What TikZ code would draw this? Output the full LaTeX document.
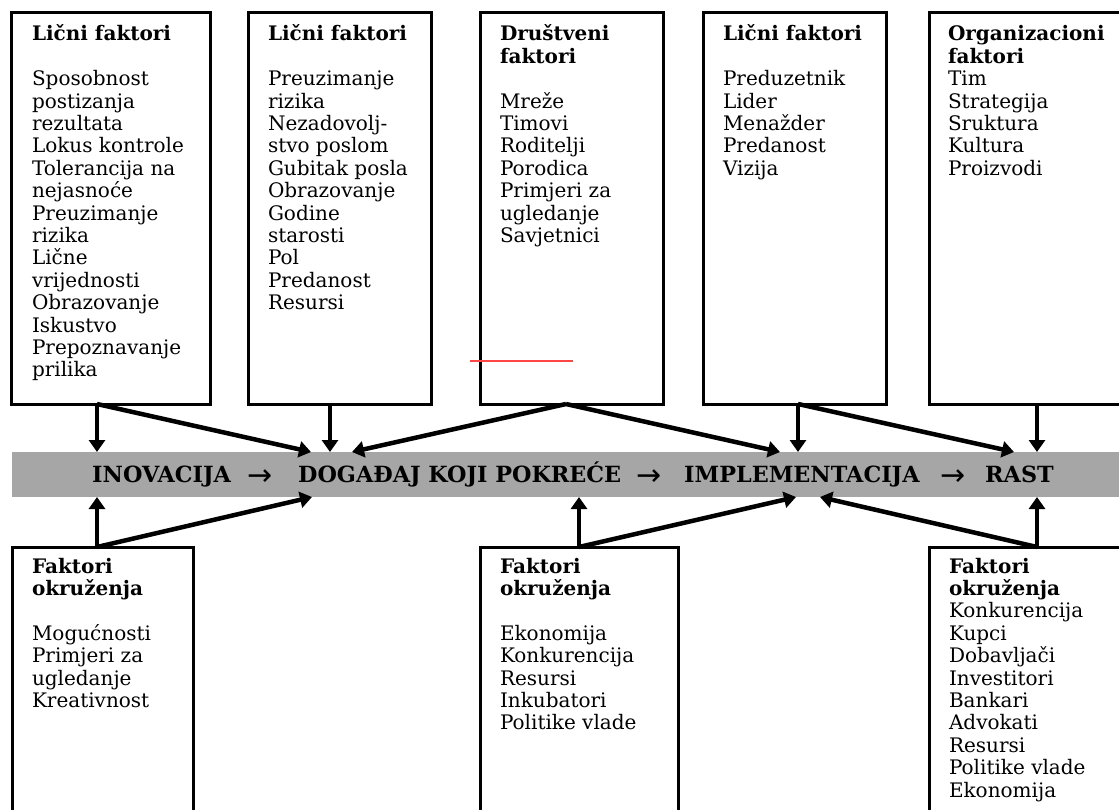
\documentclass[tikz,border=0pt]{standalone}
\usepackage{fontspec}
\setmainfont{DejaVu Serif}
\newfontfamily\signfont{DejaVu Sans}
\usetikzlibrary{arrows.meta}

\definecolor{bandgray}{RGB}{166,166,166}
\definecolor{markred}{RGB}{255,70,70}

% list of factors inside a box: first line sits on the node's base line
\newcommand{\factorlist}[1]{\parbox[t]{300pt}{\fontsize{20pt}{22.4pt}\selectfont
  \lineskiplimit=-50pt\relax\raggedright #1}}
\newcommand{\gapline}{\\[22.4pt]}

\tikzset{
  factorbox/.style={draw=black, line width=3pt, rectangle, anchor=north west,
    inner sep=0pt, outer sep=0pt},
  factortext/.style={anchor=base west, inner sep=0pt, outer sep=0pt},
  band/.style={fill=bandgray, rectangle, anchor=north west, inner sep=0pt,
    outer sep=0pt, minimum width=1130pt, minimum height=45pt},
  stage/.style={anchor=base west, inner sep=0pt,
    font=\fontsize{22.3pt}{25pt}\selectfont\bfseries},
  flowsign/.style={anchor=base, inner sep=0pt,
    font=\signfont\fontsize{30pt}{32pt}\selectfont},
  feed/.style={line width=4.5pt, -{Triangle[length=12pt,width=16pt]}}
}

\begin{document}
\begin{tikzpicture}[x=1pt, y=-1pt]
  \useasboundingbox (0,0) rectangle (1119,810);
  \fill[white] (0,0) rectangle (1119,810);
  \clip (0,0) rectangle (1119,810);

  % process band
  \node[band] (band) at (12,452) {};
  \node[stage] (s1) at (92,482) {INOVACIJA};
  \node[flowsign] (f1) at (260,485) {→};
  \node[stage] (s2) at (298,482) {DOGAĐAJ KOJI POKREĆE};
  \node[flowsign] (f2) at (649,485) {→};
  \node[stage] (s3) at (684,482) {IMPLEMENTACIJA};
  \node[flowsign] (f3) at (953,485) {→};
  \node[stage] (s4) at (985,482) {RAST};

  % upper factor boxes
  \node[factorbox, minimum width=199pt, minimum height=391pt] (t1) at (11,13) {};
  \node[factorbox, minimum width=183pt, minimum height=391pt] (t2) at (248,13) {};
  \node[factorbox, minimum width=183pt, minimum height=391pt] (t3) at (480,13) {};
  \node[factorbox, minimum width=183pt, minimum height=391pt] (t4) at (703,13) {};
  \node[factorbox, minimum width=211pt, minimum height=391pt] (t5) at (929,13) {};

  % lower factor boxes
  \node[factorbox, minimum width=181pt, minimum height=290pt] (b1) at (12,547) {};
  \node[factorbox, minimum width=198pt, minimum height=290pt] (b2) at (480,547) {};
  \node[factorbox, minimum width=211pt, minimum height=290pt] (b3) at (929,547) {};

  % box contents
  \node[factortext] (t1txt) at (32,41) {\factorlist{\textbf{Lični faktori}\gapline
    Sposobnost\\ postizanja\\ rezultata\\ Lokus kontrole\\ Tolerancija na\\
    nejasnoće\\ Preuzimanje\\ rizika\\ Lične\\ vrijednosti\\ Obrazovanje\\
    Iskustvo\\ Prepoznavanje\\ prilika}};
  \node[factortext] (t2txt) at (268,41) {\factorlist{\textbf{Lični faktori}\gapline
    Preuzimanje\\ rizika\\ Nezadovolj-\\ stvo poslom\\ Gubitak posla\\
    Obrazovanje\\ Godine\\ starosti\\ Pol\\ Predanost\\ Resursi}};
  \node[factortext] (t3txt) at (500,41) {\factorlist{\textbf{Društveni}\\
    \textbf{faktori}\gapline
    Mreže\\ Timovi\\ Roditelji\\ Porodica\\ Primjeri za\\ ugledanje\\ Savjetnici}};
  \node[factortext] (t4txt) at (723,41) {\factorlist{\textbf{Lični faktori}\gapline
    Preduzetnik\\ Lider\\ Menažder\\ Predanost\\ Vizija}};
  \node[factortext] (t5txt) at (948,41) {\factorlist{\textbf{Organizacioni}\\
    \textbf{faktori}\\ Tim\\ Strategija\\ Sruktura\\ Kultura\\ Proizvodi}};
  \node[factortext] (b1txt) at (32,573) {\factorlist{\textbf{Faktori}\\
    \textbf{okruženja}\gapline
    Mogućnosti\\ Primjeri za\\ ugledanje\\ Kreativnost}};
  \node[factortext] (b2txt) at (500,573) {\factorlist{\textbf{Faktori}\\
    \textbf{okruženja}\gapline
    Ekonomija\\ Konkurencija\\ Resursi\\ Inkubatori\\ Politike vlade}};
  \node[factortext] (b3txt) at (949,573) {\factorlist{\textbf{Faktori}\\
    \textbf{okruženja}\\ Konkurencija\\ Kupci\\ Dobavljači\\ Investitori\\
    Bankari\\ Advokati\\ Resursi\\ Politike vlade\\ Ekonomija}};

  % influences from above
  \draw[feed] ([xshift=86pt]t1.south west) -- ([xshift=85pt]band.north west);
  \draw[feed] ([xshift=86pt]t1.south west) -- ([xshift=299pt]band.north west);
  \draw[feed] ([xshift=82pt]t2.south west) -- ([xshift=318pt]band.north west);
  \draw[feed] ([xshift=86pt]t3.south west) -- ([xshift=340pt]band.north west);
  \draw[feed] ([xshift=86pt]t3.south west) -- ([xshift=768pt]band.north west);
  \draw[feed] ([xshift=95pt]t4.south west) -- ([xshift=786pt]band.north west);
  \draw[feed] ([xshift=95pt]t4.south west) -- ([xshift=1002pt]band.north west);
  \draw[feed] ([xshift=108pt]t5.south west) -- ([xshift=1025pt]band.north west);

  % influences from below
  \draw[feed] ([xshift=85pt]b1.north west) -- ([xshift=85pt]band.south west);
  \draw[feed] ([xshift=85pt]b1.north west) -- ([xshift=300pt]band.south west);
  \draw[feed] ([xshift=99pt]b2.north west) -- ([xshift=567pt]band.south west);
  \draw[feed] ([xshift=99pt]b2.north west) -- ([xshift=784pt]band.south west);
  \draw[feed] ([xshift=108pt]b3.north west) -- ([xshift=1025pt]band.south west);
  \draw[feed] ([xshift=108pt]b3.north west) -- ([xshift=808pt]band.south west);

  % red stroke inside the social factors box
  \draw[markred, line width=1.5pt] (470,361) -- (573,361);
\end{tikzpicture}
\end{document}
